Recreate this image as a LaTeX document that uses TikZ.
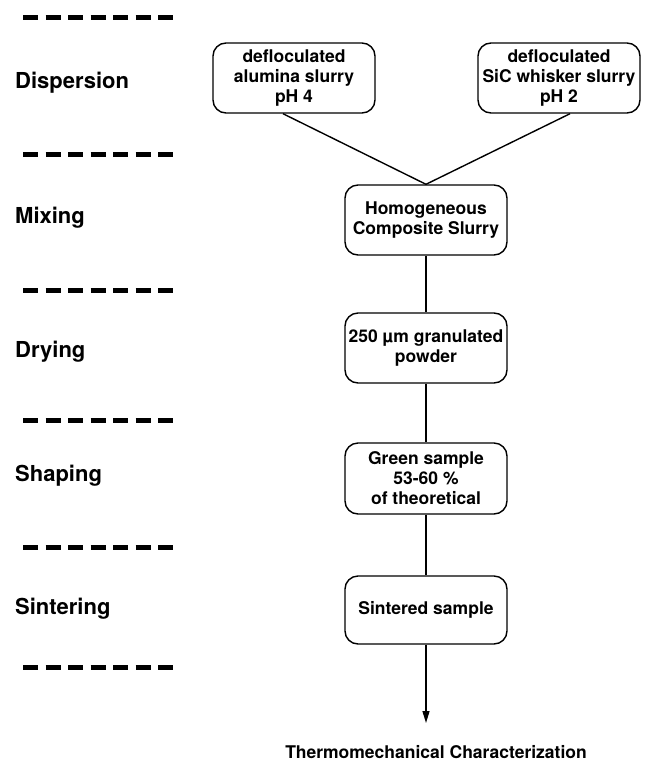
\documentclass[tikz,border=0pt]{standalone}
\usepackage{fontspec}
\setmainfont{TeX Gyre Heros}
\usetikzlibrary{arrows.meta}
\begin{document}
\begin{tikzpicture}[x=1pt,y=-1pt,
  box/.style={draw, line width=1.4pt, rounded corners=13pt, minimum width=162pt,
    minimum height=70pt, inner sep=0pt, align=center,
    font=\fontsize{17.5}{20}\selectfont\bfseries},
  stage/.style={anchor=west, inner sep=0pt, font=\fontsize{22}{26}\selectfont\bfseries},
  sepline/.style={line width=5pt, dash pattern=on 15pt off 7.5pt},
  conn/.style={line width=1.4pt}]
\useasboundingbox (0,0) rectangle (647,761);

% stage separators
\foreach \yy in {17,154,290,420,547,667}
  \draw[sepline] (23,\yy) -- (173,\yy);

% stage labels
\node[stage] (l1) at (15,83) {Dispersion};
\node[stage] (l2) at (15,218) {Mixing};
\node[stage] (l3) at (15,352) {Drying};
\node[stage] (l4) at (15,476) {Shaping};
\node[stage] (l5) at (15,609) {Sintering};

% boxes
\node[box] (alu) at (294,78) {defloculated\\alumina slurry\\pH 4};
\node[box] (sic) at (559,78) {defloculated\\SiC whisker slurry\\pH 2};
\node[box] (mix) at (426,220) {Homogeneous\\Composite Slurry};
\node[box] (dry) at (426,348) {250 µm granulated\\powder};
\node[box, minimum height=71pt] (shp) at (426,478.5) {Green sample\\53-60 \%\\of theoretical};
\node[box, minimum height=68pt] (sint) at (426,610) {Sintered sample};
\coordinate (endp) at (426,723);
\node[inner sep=0pt, font=\fontsize{17.5}{20}\selectfont\bfseries] (tmc) at (436,752) {Thermomechanical Characterization};

% connectors
\draw[conn] ([xshift=-11pt]alu.south) -- (mix.north);
\draw[conn] ([xshift=11pt]sic.south) -- (mix.north);
\draw[conn] (mix.south) -- (dry.north);
\draw[conn] (dry.south) -- (shp.north);
\draw[conn] (shp.south) -- (sint.north);
\draw[conn, -{Triangle[length=12pt,width=7pt]}] (sint.south) -- (endp);
\end{tikzpicture}
\end{document}
